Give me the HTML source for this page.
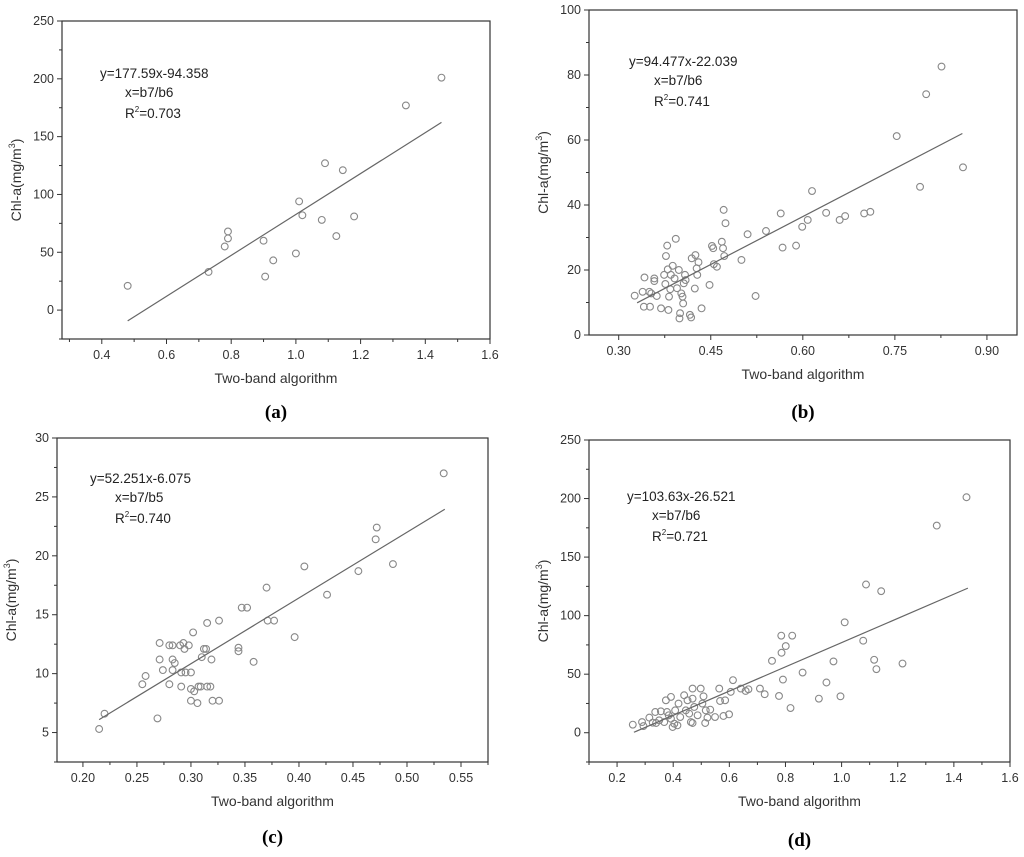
<!DOCTYPE html>
<html><head><meta charset="utf-8"><style>
body{margin:0;background:#fff;}
svg{display:block;font-family:"Liberation Sans",Arial,sans-serif;}
</style></head><body>
<svg id="fig" width="1024" height="857" viewBox="0 0 1024 857"></svg>
<script>
// Panel (a)
const aX=[0.48,0.73,0.78,0.79,0.79,0.90,0.905,0.93,1.0,1.01,1.02,1.08,1.09,1.125,1.145,1.18,1.34,1.45];
const aY=[21,33,55,62,68,60,29,43,49,94,82,78,127,64,121,81,177,201];
const aXTicks=[0.4,0.6,0.8,1.0,1.2,1.4,1.6];
const aYTicks=[0,50,100,150,200,250];
const aFitX=[0.48,1.45];
const aFitY=[-9.3,162.3];
// Panel (b)
const bX=[0.326,0.339,0.341,0.342,0.350,0.351,0.353,0.358,0.358,0.362,0.369,0.374,0.376,0.377,0.379,0.380,0.381,0.382,0.384,0.385,0.388,0.391,0.393,0.395,0.398,0.399,0.400,0.402,0.404,0.405,0.406,0.408,0.409,0.416,0.418,0.419,0.424,0.425,0.427,0.428,0.430,0.435,0.448,0.452,0.454,0.455,0.460,0.468,0.470,0.471,0.472,0.474,0.500,0.510,0.523,0.540,0.564,0.567,0.589,0.599,0.608,0.615,0.638,0.660,0.669,0.700,0.710,0.753,0.791,0.801,0.826,0.861];
const bY=[12.1,13.3,8.7,17.7,13.3,8.7,12.8,17.4,16.6,12.0,8.2,18.5,15.7,24.3,27.5,20.2,7.7,11.8,14.1,18.5,21.3,17.4,29.6,14.4,20.0,5.1,6.7,12.8,11.8,9.7,15.9,18.5,16.9,6.2,5.4,23.6,14.3,24.6,20.5,18.5,22.4,8.2,15.4,27.4,26.7,21.8,21.0,28.7,26.7,38.5,24.3,34.4,23.1,31.0,12.0,32.0,37.4,26.9,27.5,33.3,35.4,44.3,37.6,35.4,36.6,37.4,37.9,61.2,45.6,74.1,82.6,51.6];
const bXTicks=[0.30,0.45,0.60,0.75,0.90];
const bYTicks=[0,20,40,60,80,100];
const bFitX=[0.33,0.86];
const bFitY=[9.9,62.0];
// Panel (c)
const cX=[0.215,0.220,0.255,0.258,0.269,0.271,0.271,0.274,0.280,0.280,0.283,0.283,0.285,0.283,0.290,0.291,0.291,0.293,0.294,0.295,0.298,0.300,0.300,0.300,0.302,0.303,0.306,0.307,0.309,0.310,0.312,0.314,0.315,0.315,0.318,0.319,0.320,0.326,0.326,0.344,0.344,0.347,0.352,0.358,0.370,0.371,0.377,0.396,0.405,0.426,0.455,0.471,0.472,0.487,0.534];
const cY=[5.3,6.6,9.1,9.8,6.2,12.6,11.2,10.3,12.4,9.1,12.4,11.2,10.9,10.3,12.4,8.9,10.1,12.6,12.1,10.1,12.4,10.1,8.7,7.7,13.5,8.5,7.5,8.9,8.9,11.4,12.1,12.1,14.3,8.9,8.9,11.2,7.7,7.7,14.5,11.9,12.2,15.6,15.6,11.0,17.3,14.5,14.5,13.1,19.1,16.7,18.7,21.4,22.4,19.3,27.0];
const cXTicks=[0.20,0.25,0.30,0.35,0.40,0.45,0.50,0.55];
const cYTicks=[5,10,15,20,25,30];
const cFitX=[0.215,0.535];
const cFitY=[6.1,23.95];
// Panel (d)
const dX=[0.256,0.289,0.294,0.315,0.327,0.336,0.339,0.350,0.356,0.368,0.374,0.378,0.384,0.392,0.392,0.398,0.404,0.407,0.415,0.419,0.425,0.439,0.445,0.451,0.457,0.463,0.469,0.469,0.469,0.475,0.487,0.498,0.504,0.508,0.514,0.516,0.522,0.532,0.549,0.564,0.567,0.585,0.579,0.599,0.605,0.613,0.641,0.658,0.668,0.709,0.726,0.752,0.777,0.785,0.786,0.791,0.801,0.818,0.824,0.861,0.919,0.946,0.971,0.996,1.011,1.077,1.087,1.116,1.124,1.141,1.217,1.339,1.445];
const dY=[6.9,9.1,5.7,12.9,8.6,17.7,8.3,10.6,18.3,9.1,27.7,17.7,14.9,30.6,12.0,4.9,7.7,19.1,6.3,24.9,13.4,32.0,19.1,27.7,16.3,9.1,37.7,29.1,8.3,22.0,14.9,37.7,24.9,31.1,8.3,19.1,12.9,19.7,13.4,37.7,27.1,27.7,14.3,15.7,34.9,44.9,37.7,35.7,37.1,37.7,32.9,61.4,31.4,82.9,68.3,45.4,74.0,21.1,82.9,51.4,29.1,42.9,60.9,31.1,94.3,78.6,126.6,62.3,54.3,120.9,59.1,176.9,201.1];
const dXTicks=[0.2,0.4,0.6,0.8,1.0,1.2,1.4,1.6];
const dYTicks=[0,50,100,150,200,250];
const dFitX=[0.26,1.45];
const dFitY=[0.4,123.5];

const NS="http://www.w3.org/2000/svg";
const svg=document.getElementById('fig');
function mk(tag,attrs,parent){const e=document.createElementNS(NS,tag);for(const k in attrs)e.setAttribute(k,attrs[k]);(parent||svg).appendChild(e);return e;}

function panel(p){
  const g=mk('g',{});
  
  
  const sx=v=>p.L+(v-p.x0)/(p.x1-p.x0)*(p.R-p.L);
  const sy=v=>p.B-(v-p.y0)/(p.y1-p.y0)*(p.B-p.T);
  const fr=mk('rect',{x:p.L,y:p.T,width:p.R-p.L,height:p.B-p.T,fill:'none',stroke:'#333','stroke-width':1.2},g);
  
  
  const firstX=Math.ceil(p.x0/p.xm-1e-6)*p.xm;
  for(let v=firstX;v<=p.x1+1e-9;v+=p.xm){
    const isMaj=p.xTicks.some(t=>Math.abs(t-v)<1e-6);
    mk('line',{x1:sx(v),x2:sx(v),y1:p.B,y2:p.B+(isMaj?5:3),stroke:'#333','stroke-width':1},g);
  }
  p.xTicks.forEach(t=>{const tx=mk('text',{x:sx(t),y:p.B+20,'text-anchor':'middle','font-size':12.5,fill:'#333'},g);tx.textContent=t.toFixed(p.xDec);
    
    });
  for(let v=p.y0;v<=p.y1+1e-9;v+=p.ym){
    const isMaj=p.yTicks.some(t=>Math.abs(t-v)<1e-6);
    mk('line',{x1:p.L,x2:p.L-(isMaj?5:3),y1:sy(v),y2:sy(v),stroke:'#333','stroke-width':1},g);
  }
  p.yTicks.forEach(t=>{const tx=mk('text',{x:p.L-8,y:sy(t)+4,'text-anchor':'end','font-size':12.5,fill:'#333'},g);tx.textContent=t;
    
    });
  const xt=mk('text',{x:(p.L+p.R)/2,y:p.B+44,'text-anchor':'middle','font-size':14,fill:'#333'},g);
  xt.textContent='Two-band algorithm';
  
  
  const yc=(p.T+p.B)/2;
  const yt=mk('text',{x:p.L-41,y:yc,'text-anchor':'middle','font-size':14,fill:'#333',transform:`rotate(-90 ${p.L-41} ${yc})`},g);
  yt.innerHTML='Chl-a(mg/m<tspan dy="-6" font-size="9">3</tspan><tspan dy="6">)</tspan>';
  
  
  p.xs.forEach((xv,i)=>{const c=mk('circle',{cx:sx(xv),cy:sy(p.ys[i]),r:3.4,fill:'none',stroke:'#888','stroke-width':1.1},g);
    
    });
  const ln=mk('line',{x1:sx(p.fx[0]),y1:sy(p.fy[0]),x2:sx(p.fx[1]),y2:sy(p.fy[1]),stroke:'#666','stroke-width':1.2},g);
  
  
  const eq=mk('text',{'font-size':13.5,fill:'#222'},g);
  
  
  const t1=mk('tspan',{x:p.ex,y:p.ey},eq);t1.textContent=p.eq;
  const t2=mk('tspan',{x:p.ex+25,y:p.ey+19},eq);t2.textContent=p.xeq;
  const t3=mk('tspan',{x:p.ex+25,y:p.ey+40},eq);t3.innerHTML='R<tspan dy="-6" font-size="8">2</tspan><tspan dy="6">='+p.r2+'</tspan>';
  const lb=mk('text',{x:(p.L+p.R)/2,y:p.lbY,'text-anchor':'middle','font-size':19,'font-weight':'bold','font-family':'"Liberation Serif",serif',fill:'#000'},g);
  lb.textContent='('+p.id+')';
  
  
}

panel({id:'a',L:62,R:490,T:21,B:339,x0:0.277,x1:1.6,y0:-25,y1:250,xm:0.1,ym:25,xTicks:aXTicks,yTicks:aYTicks,xDec:1,xs:aX,ys:aY,fx:aFitX,fy:aFitY,eq:'y=177.59x-94.358',xeq:'x=b7/b6',r2:'0.703',ex:100,ey:78,lbY:418});
panel({id:'b',L:589,R:1017,T:10,B:335,x0:0.2516,x1:0.949,y0:0,y1:100,xm:0.075,ym:10,xTicks:bXTicks,yTicks:bYTicks,xDec:2,xs:bX,ys:bY,fx:bFitX,fy:bFitY,eq:'y=94.477x-22.039',xeq:'x=b7/b6',r2:'0.741',ex:629,ey:66,lbY:418});
panel({id:'c',L:57,R:488,T:438,B:762,x0:0.176,x1:0.575,y0:2.5,y1:30,xm:0.025,ym:2.5,xTicks:cXTicks,yTicks:cYTicks,xDec:2,xs:cX,ys:cY,fx:cFitX,fy:cFitY,eq:'y=52.251x-6.075',xeq:'x=b7/b5',r2:'0.740',ex:90,ey:483,lbY:843});
panel({id:'d',L:589,R:1010,T:440,B:762,x0:0.1,x1:1.6,y0:-25,y1:250,xm:0.1,ym:25,xTicks:dXTicks,yTicks:dYTicks,xDec:1,xs:dX,ys:dY,fx:dFitX,fy:dFitY,eq:'y=103.63x-26.521',xeq:'x=b7/b6',r2:'0.721',ex:627,ey:501,lbY:846});
</script>
</body></html>
